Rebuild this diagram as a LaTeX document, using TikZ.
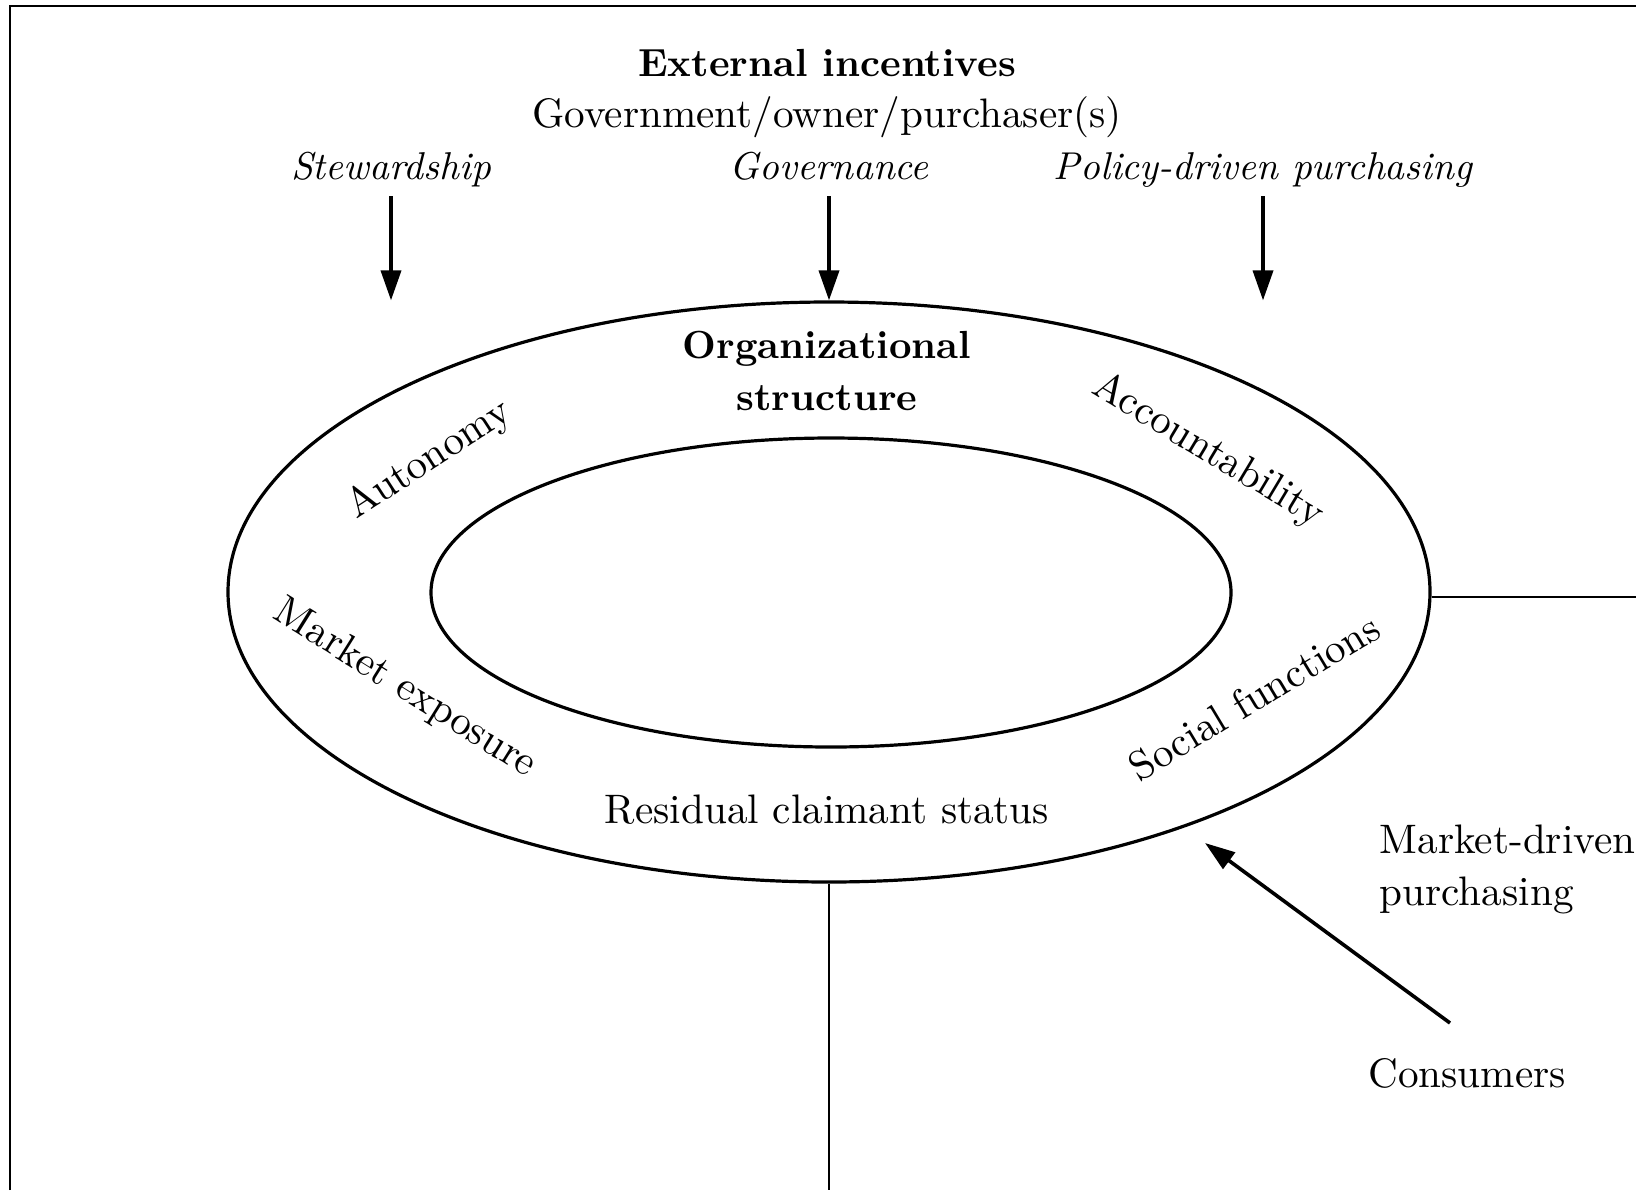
\documentclass[tikz,border=0pt]{standalone}
\usepackage{fontspec}
\usepackage{tikz}
\usetikzlibrary{shapes.geometric, arrows.meta, positioning, calc}

\begin{document}
\begin{tikzpicture}[
  x=0.25pt, y=-0.25pt,
  txt/.style={font=\fontsize{10.3}{13}\selectfont, inner sep=2pt},
  head/.style={font=\fontsize{9.8}{13}\selectfont\bfseries, inner sep=2pt},
  incent/.style={font=\fontsize{9.7}{13}\selectfont\itshape, inner sep=2pt, text depth=2pt},
  ring/.style={ellipse, draw, line width=0.8pt, inner sep=0pt},
  arrow/.style={-{Triangle[length=7.5pt, width=5pt]}, line width=0.9pt},
  link/.style={line width=0.5pt},
  frame/.style={line width=0.65pt}
]

\useasboundingbox (0,0) rectangle (1636,1190);

\node[head, anchor=base] (ext) at (827,76) {External incentives};
\node[txt, anchor=base] (gov) at (827,127) {Government/owner/purchaser(s)};
\node[incent, anchor=base] (stew) at (391,179.5) {Stewardship};
\node[incent, anchor=base] (govern) at (829,179.5) {Governance};
\node[incent, anchor=base] (policy) at (1263,179.5) {Policy-driven purchasing};

\node[ring, minimum width=300.5pt, minimum height=145pt] (outer) at (829,592) {};
\node[ring, minimum width=200pt, minimum height=77.25pt] (inner) at (831,592.5) {};

\node[head, align=center, anchor=north] (org) at (827,322) {Organizational\\structure};
\node[txt, rotate=33] (auton) at (429,460) {Autonomy};
\node[txt, rotate=-31] (acct) at (1208,451) {Accountability};
\node[txt, rotate=-32] (mexp) at (405,689) {Market exposure};
\node[txt, rotate=31] (social) at (1254,697) {Social functions};
\node[txt, anchor=base] (resid) at (827,823) {Residual claimant status};
\node[txt, align=left, anchor=north west] (mdp) at (1371,816) {Market-driven\\purchasing};
\node[txt, anchor=base] (cons) at (1467,1087) {Consumers};

\coordinate (frameBL) at (10,1190);
\coordinate (frameTL) at (10,6);
\coordinate (frameTR) at (1636,6);
\coordinate (constail) at (1450,1023);
\coordinate (constip) at (1205,843);

\draw[frame] (frameBL) -- (frameTL) -- (frameTR);
\draw[arrow] (stew.south) -- (stew.south |- outer.north);
\draw[arrow] (govern.south) -- (outer.north);
\draw[arrow] (policy.south) -- (policy.south |- outer.north);
\draw[arrow] (constail) -- (constip);
\draw[link] ([yshift=-1.25pt]outer.east) -- ([yshift=-1.25pt]outer.east -| frameTR);
\draw[link] (outer.south) -- (outer.south |- frameBL);

\end{tikzpicture}
\end{document}
